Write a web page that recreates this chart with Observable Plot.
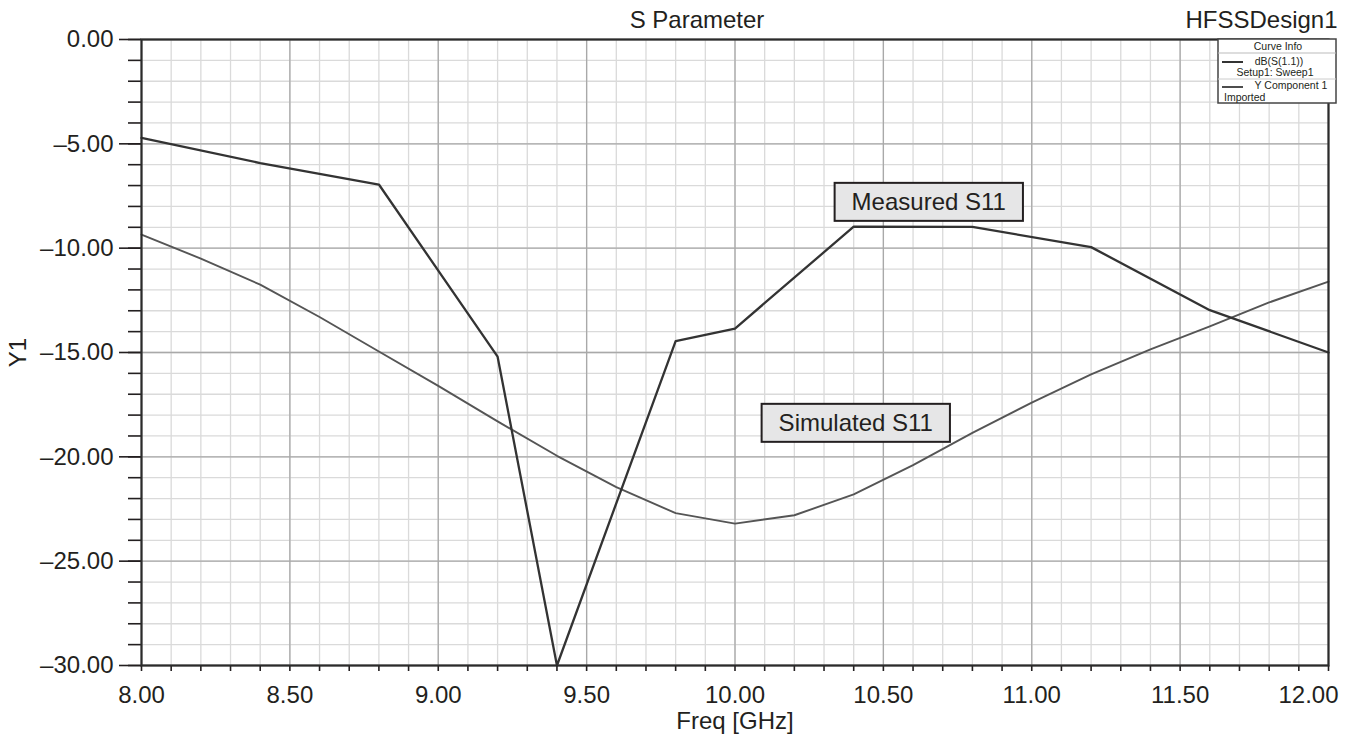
<!DOCTYPE html>
<html><head><meta charset="utf-8">
<script src="https://cdn.jsdelivr.net/npm/d3@7"></script>
<script src="https://cdn.jsdelivr.net/npm/@observablehq/plot@0.6"></script>
<style>html,body{margin:0;padding:0;background:#fff;} svg{display:block;}</style>
</head><body><div id="chart"></div>
<script>
// ---- data ----
const measuredFreq = [8.0, 8.4, 8.8, 9.2, 9.4, 9.8, 10.0, 10.4, 10.8, 11.2, 11.6, 12.0];
const measuredS11  = [-4.72, -5.92, -6.95, -15.2, -30.0, -14.45, -13.85, -8.97, -8.98, -9.95, -12.97, -15.0];
const simulatedFreq = [8.0, 8.2, 8.4, 8.6, 8.8, 9.0, 9.2, 9.4, 9.6, 9.8, 10.0, 10.2, 10.4, 10.6, 10.8, 11.0, 11.2, 11.4, 11.6, 11.8, 12.0];
const simulatedS11  = [-9.35, -10.5, -11.75, -13.3, -14.95, -16.6, -18.3, -19.95, -21.45, -22.7, -23.2, -22.8, -21.8, -20.4, -18.85, -17.4, -16.05, -14.85, -13.75, -12.6, -11.6];
const xTicks = [8.0, 8.5, 9.0, 9.5, 10.0, 10.5, 11.0, 11.5, 12.0];
const xTickLabels = ["8.00", "8.50", "9.00", "9.50", "10.00", "10.50", "11.00", "11.50", "12.00"];
const yTicks = [0, -5, -10, -15, -20, -25, -30];
const yTickLabels = ["0.00", "\u20135.00", "\u201310.00", "\u201315.00", "\u201320.00", "\u201325.00", "\u201330.00"];
const xMinorTicks = d3.range(0, 41).map(i => +(8 + i * 0.1).toFixed(1));
const yMinorTicks = d3.range(0, 31).map(i => -i);
const annoLabels = ["Measured S11", "Simulated S11"];
const annoFreq = [10.653, 10.407];
const annoY = [-7.82, -18.41];
const legendLines = ["Curve Info", "dB(S(1.1))", "Setup1: Sweep1", "Y Component 1", "Imported"];
const titleText = "S Parameter";
const designText = "HFSSDesign1";
const xLabel = "Freq [GHz]";
const yLabel = "Y1";

const measured = measuredFreq.map((f, i) => ({f, v: measuredS11[i]}));
const simulated = simulatedFreq.map((f, i) => ({f, v: simulatedS11[i]}));
const annotations = annoLabels.map((t, i) => ({x: annoFreq[i], y: annoY[i], t}));
const ink = "#231f20";
const font = "'Liberation Sans', Arial, Helvetica, sans-serif";

const chart = Plot.plot({
  width: 1354, height: 749,
  marginLeft: 141, marginRight: 26, marginTop: 39, marginBottom: 84,
  x: {domain: [8, 12]},
  y: {domain: [-30, 0]},
  style: {fontFamily: font, color: ink, background: "#fff", overflow: "visible"},
  marks: [
    Plot.gridX(xMinorTicks, {stroke: "#dadada", strokeOpacity: 1, strokeWidth: 1.3}),
    Plot.gridY(yMinorTicks, {stroke: "#dadada", strokeOpacity: 1, strokeWidth: 1.3}),
    Plot.gridX(xTicks, {stroke: "#a9a9a9", strokeOpacity: 1, strokeWidth: 1.3}),
    Plot.gridY(yTicks, {stroke: "#a9a9a9", strokeOpacity: 1, strokeWidth: 1.3}),
    Plot.axisX(xMinorTicks, {tickSize: 6, tickFormat: () => "", stroke: ink, strokeWidth: 1.6, label: null}),
    Plot.axisY(yMinorTicks, {tickSize: 13, tickFormat: () => "", stroke: ink, strokeWidth: 1.6, label: null}),
    Plot.axisY(yTicks, {tickSize: 22, tickPadding: 6, tickFormat: (d) => yTickLabels[yTicks.indexOf(d)], fontSize: 24, fill: ink, stroke: ink, strokeWidth: 1.6, label: null}),
    Plot.text(xTicks.slice(0, -1), {x: d => d, text: (d, i) => xTickLabels[i], frameAnchor: "bottom", lineAnchor: "middle", dy: 30, fontSize: 24, fill: ink}),
    Plot.text(xTicks.slice(-1), {x: d => d, text: () => xTickLabels[xTickLabels.length - 1], frameAnchor: "bottom", lineAnchor: "middle", textAnchor: "end", dx: 10, dy: 30, fontSize: 24, fill: ink}),
    Plot.line(simulated, {x: "f", y: "v", stroke: "#555", strokeWidth: 1.9}),
    Plot.line(measured, {x: "f", y: "v", stroke: "#333", strokeWidth: 2.3}),
    Plot.frame({stroke: "#2b2b2b", strokeWidth: 2.2}),
    Plot.text(annotations, {x: "x", y: "y", text: "t", fontSize: 24, fill: ink, className: "anno"}),
    Plot.text([titleText], {frameAnchor: "top", lineAnchor: "middle", dx: -38, dy: -19, fontSize: 24, fill: ink}),
    Plot.text([designText], {frameAnchor: "top-right", lineAnchor: "middle", textAnchor: "end", dx: 9, dy: -19, fontSize: 24, fill: ink}),
    Plot.text([xLabel], {frameAnchor: "bottom", lineAnchor: "middle", dy: 56, fontSize: 24, fill: ink}),
    Plot.text([yLabel], {frameAnchor: "left", lineAnchor: "middle", textAnchor: "middle", dx: -123, rotate: -90, fontSize: 24, fill: ink})
  ]
});
document.getElementById("chart").append(chart);

// boxes behind annotation labels
d3.select(chart).selectAll("g.anno text").each(function () {
  const b = this.getBBox();
  const padX = 17, padY = 5.5;
  d3.select(this.parentNode).insert("rect", () => this)
    .attr("transform", this.getAttribute("transform"))
    .attr("x", b.x - padX).attr("y", b.y - padY)
    .attr("width", b.width + 2 * padX).attr("height", b.height + 2 * padY)
    .attr("fill", "#e6e6e7").attr("stroke", ink).attr("stroke-width", 2);
});

// "Curve Info" legend box
const lg = d3.select(chart).append("g").attr("font-family", font).attr("font-size", 10.5).attr("fill", ink);
lg.append("rect").attr("x", 1218).attr("y", 39).attr("width", 118).attr("height", 64)
  .attr("fill", "#fff").attr("stroke", "#444").attr("stroke-width", 1.5);
lg.append("line").attr("x1", 1218).attr("x2", 1336).attr("y1", 53).attr("y2", 53).attr("stroke", "#bbb");
lg.append("line").attr("x1", 1218).attr("x2", 1336).attr("y1", 79).attr("y2", 79).attr("stroke", "#ccc");
lg.append("text").attr("x", 1278).attr("y", 50).attr("text-anchor", "middle").text(legendLines[0]);
lg.append("line").attr("x1", 1222).attr("x2", 1243).attr("y1", 62).attr("y2", 62).attr("stroke", "#333").attr("stroke-width", 2);
lg.append("text").attr("x", 1279).attr("y", 65).attr("text-anchor", "middle").text(legendLines[1]);
lg.append("text").attr("x", 1275).attr("y", 76).attr("text-anchor", "middle").text(legendLines[2]);
lg.append("line").attr("x1", 1222).attr("x2", 1243).attr("y1", 87).attr("y2", 87).attr("stroke", "#4d4d4d").attr("stroke-width", 2);
lg.append("text").attr("x", 1291).attr("y", 89).attr("text-anchor", "middle").text(legendLines[3]);
lg.append("text").attr("x", 1224).attr("y", 100.5).attr("text-anchor", "start").text(legendLines[4]);
</script>
</body></html>
